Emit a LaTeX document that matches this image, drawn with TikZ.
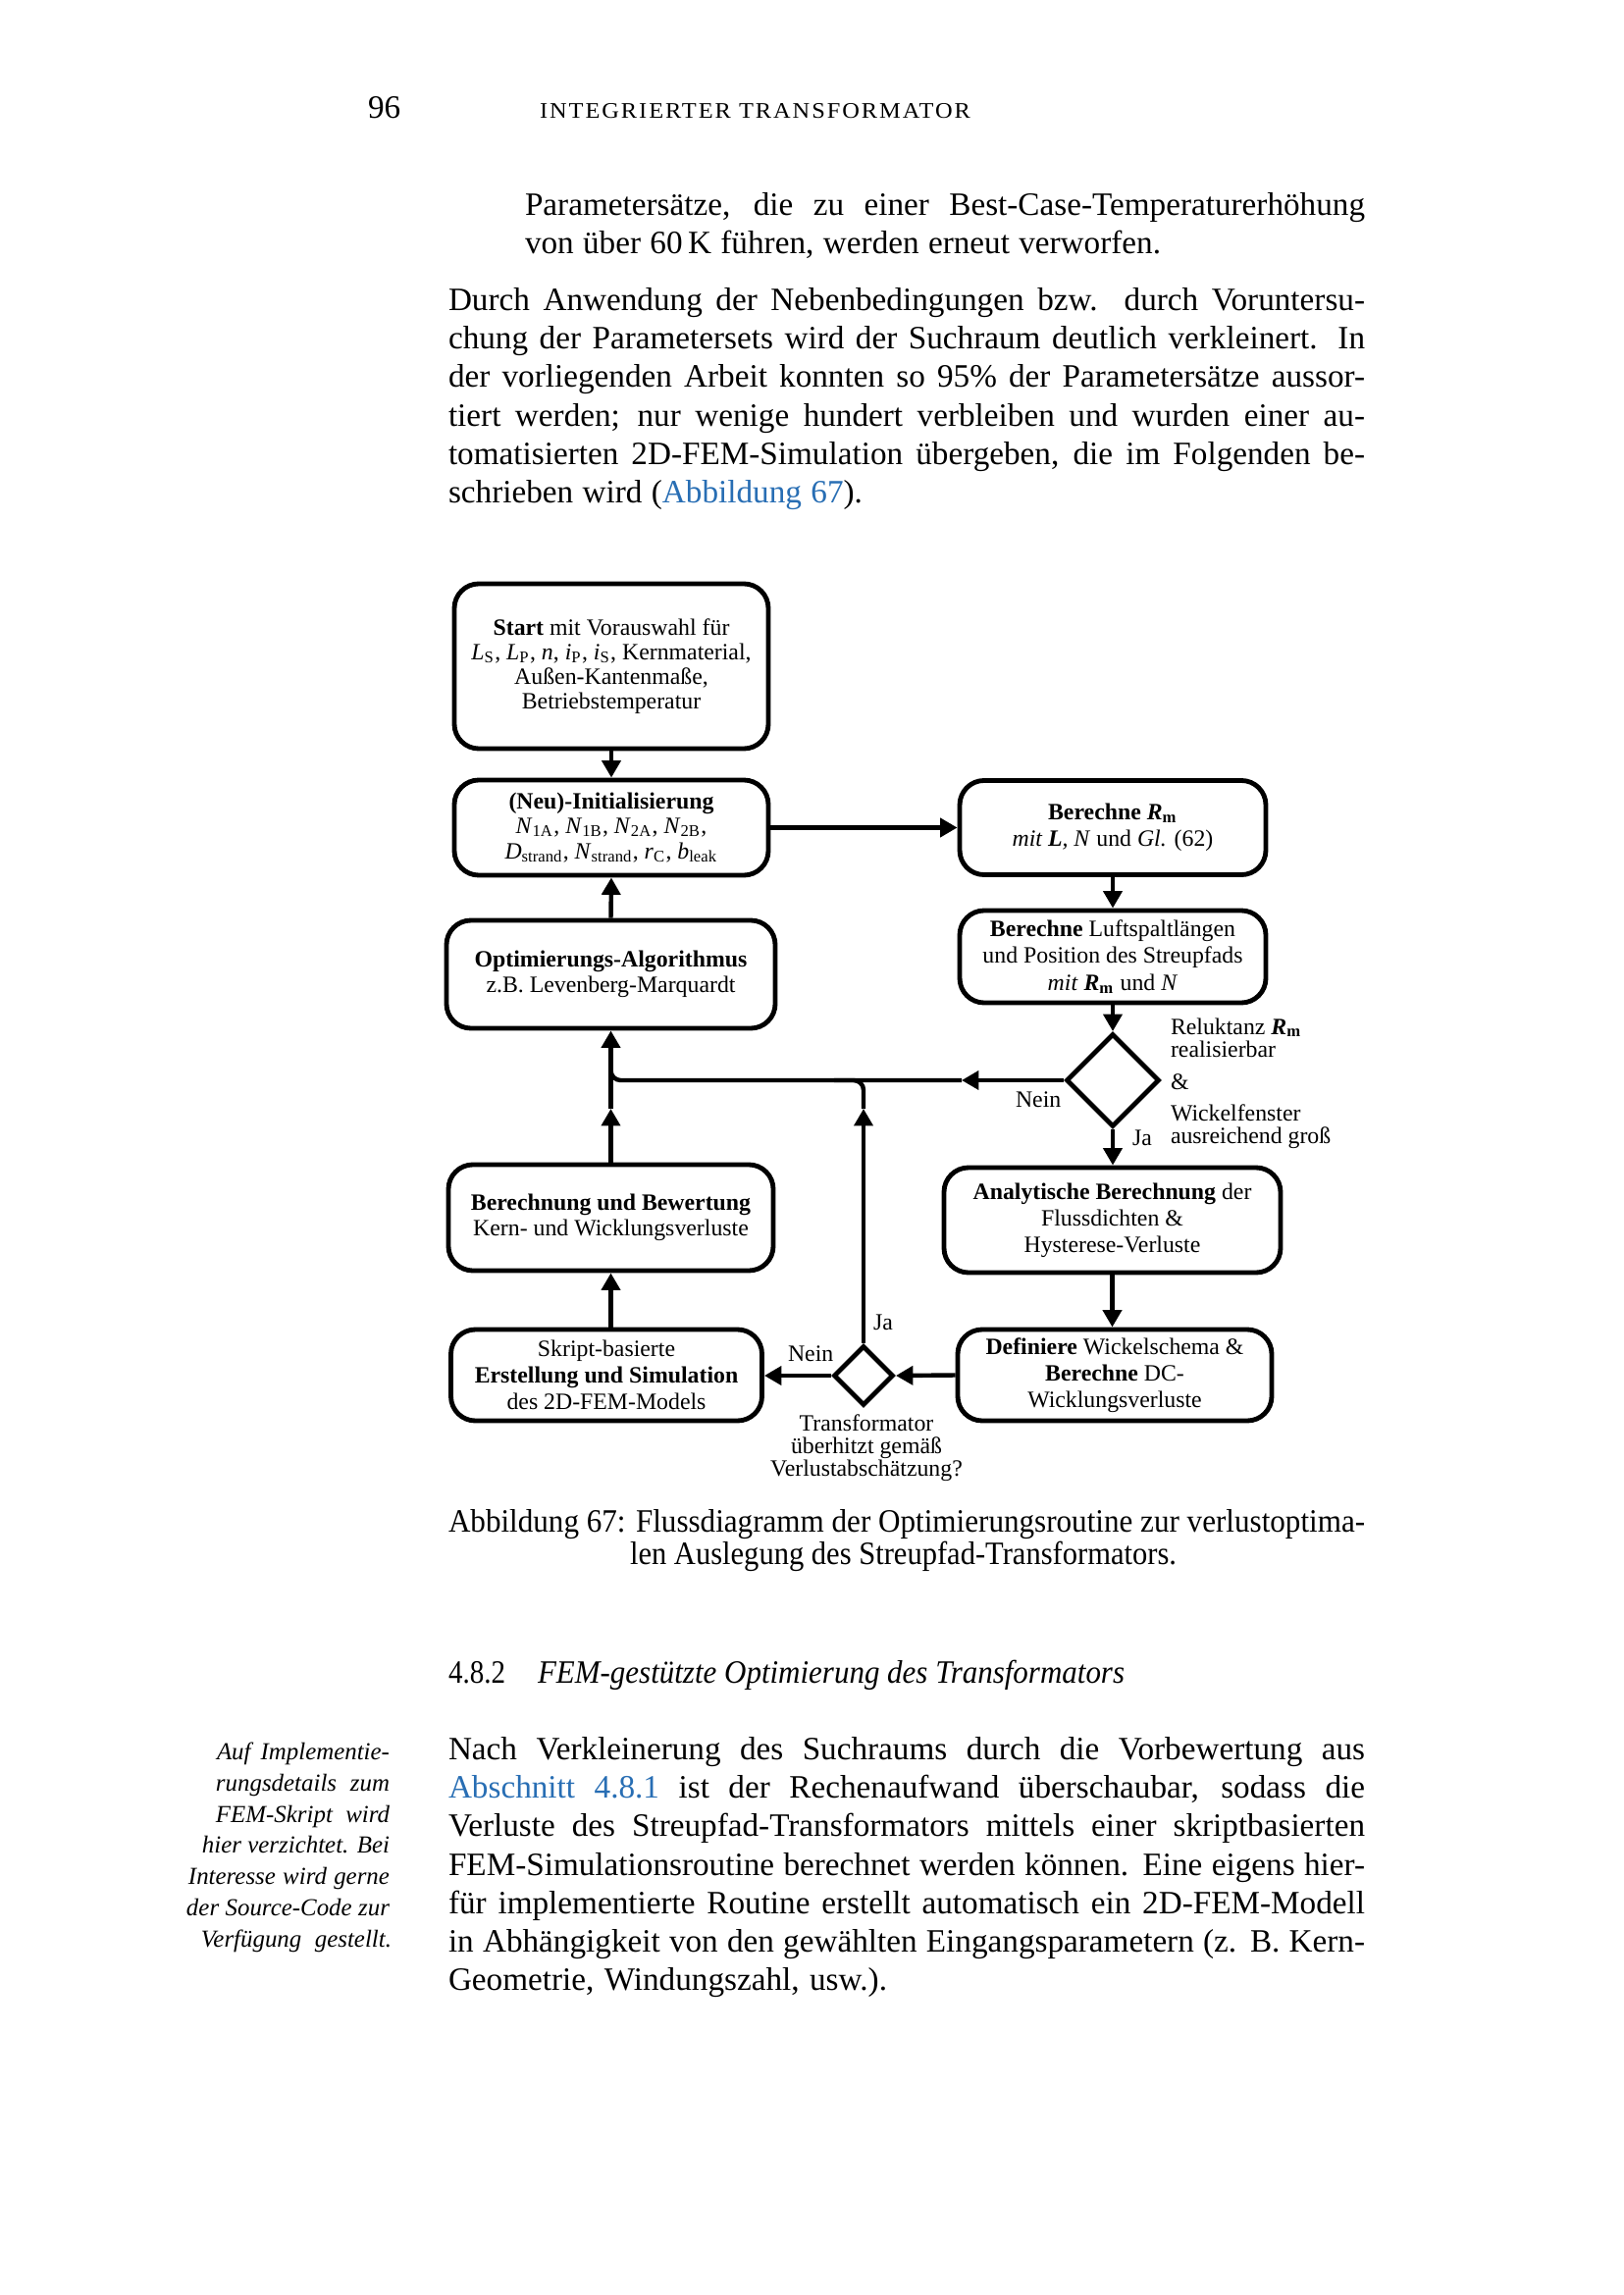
\documentclass[tikz,border=0pt]{standalone}
\usepackage{fontspec}
\setmainfont{Liberation Serif}
\usepackage{graphicx}
\usetikzlibrary{shapes.geometric,arrows.meta}
\definecolor{linkblue}{RGB}{40,110,180}
\newsavebox\jlbox
\newcommand\jline[2]{\sbox\jlbox{#2}\ifdim\wd\jlbox<#1\relax\makebox[#1][s]{#2}\else\resizebox{#1}{\height}{\usebox\jlbox}\fi}
\tikzset{
  txt/.style={anchor=base west, inner sep=0pt, outer sep=0pt, font=\fontsize{12}{14}\selectfont},
  mnote/.style={anchor=base east, inner sep=0pt, outer sep=0pt, font=\fontsize{9}{11}\selectfont\itshape},
  fbox/.style={draw, line width=1.75pt, rounded corners=9pt, align=center, inner sep=0pt, font=\fontsize{8.6}{9.5}\selectfont},
  lead/.style={font=\fontsize{8.6}{#1}\selectfont},
  dia/.style={draw, diamond, line width=1.75pt, inner sep=0pt, aspect=1},
  arr/.style={line width=1.6pt, -{Triangle[length=6.3pt,width=6.8pt]}},
  con/.style={line width=1.6pt},
  lab/.style={inner sep=0pt, outer sep=0pt, font=\fontsize{8.6}{9.1}\selectfont},
}
\begin{document}
\begin{tikzpicture}[x=0.127mm, y=-0.127mm]
\fill[white] (0,0) rectangle (1654,2339);
\useasboundingbox (0,0) rectangle (1654,2339);

% header
\node[txt] (pnum) at (375,121) {96};
\node[txt, font=\fontsize{8.2}{9}\selectfont] (head) at (550,121) {\resizebox{55.75mm}{\height}{\addfontfeatures{LetterSpace=8}INTEGRIERTER TRANSFORMATOR}};

% first paragraph (indented)
\node[txt] (p1a) at (535,220) {\jline{108.71mm}{Parametersätze, die zu einer Best-Case-Temperaturerhöhung}};
\node[txt] (p1b) at (535,259) {\jline{82.30mm}{von über 60\,K führen, werden erneut verworfen.}};

% second paragraph
\node[txt] (p2a) at (457,317) {\jline{118.62mm}{Durch Anwendung der Nebenbedingungen bzw. durch Voruntersu-}};
\node[txt] (p2b) at (457,356) {\jline{118.62mm}{chung der Parametersets wird der Suchraum deutlich verkleinert. In}};
\node[txt] (p2c) at (457,395) {\jline{118.62mm}{der vorliegenden Arbeit konnten so 95\% der Parametersätze aussor-}};
\node[txt] (p2d) at (457,435) {\jline{118.62mm}{tiert werden; nur wenige hundert verbleiben und wurden einer au-}};
\node[txt] (p2e) at (457,474) {\jline{118.62mm}{tomatisierten 2D-FEM-Simulation übergeben, die im Folgenden be-}};
\node[txt] (p2f) at (457,513) {\jline{53.59mm}{schrieben wird ({\color{linkblue}Abbildung 67}).}};

% flowchart boxes
\node[fbox, lead=9.1pt, minimum width=40.64mm, minimum height=21.34mm] (start) at (623,679)
  {\textbf{Start} mit Vorauswahl für\\
   \textit{L}\textsubscript{S}, \textit{L}\textsubscript{P}, \textit{n}, \textit{i}\textsubscript{P}, \textit{i}\textsubscript{S}, Kernmaterial,\\
   Außen-Kantenmaße,\\ Betriebstemperatur};
\node[fbox, lead=9.3pt, minimum width=40.64mm, minimum height=12.32mm] (init) at (623,843.5)
  {\textbf{(Neu)-Initialisierung}\\
   \textit{N}\textsubscript{1A}, \textit{N}\textsubscript{1B}, \textit{N}\textsubscript{2A}, \textit{N}\textsubscript{2B},\\
   \textit{D}\textsubscript{strand}, \textit{N}\textsubscript{strand}, \textit{r}\textsubscript{C}, \textit{b}\textsubscript{leak}};
\node[fbox, lead=9.7pt, minimum width=39.62mm, minimum height=12.2mm] (berrm) at (1134,843.5)
  {\textbf{Berechne \textit{R}}\textsubscript{\textbf{m}}\\
   \textit{mit \textbf{L}, N} und \textit{Gl.} (62)};
\node[fbox, lead=9.9pt, minimum width=39.62mm, minimum height=11.94mm] (luft) at (1134,975)
  {\textbf{Berechne} Luftspaltlängen\\ und Position des Streupfads\\
   \textit{mit} \textbf{\textit{R}}\textsubscript{\textbf{m}} und \textit{N}};
\node[dia, minimum width=12.07mm, minimum height=12.07mm] (d1) at (1134,1101) {};
\node[fbox, minimum width=42.55mm, minimum height=13.97mm] (opt) at (622.5,993)
  {\textbf{Optimierungs-Algorithmus}\\ z.B. Levenberg-Marquardt};
\node[fbox, minimum width=42.04mm, minimum height=13.72mm] (bew) at (622.5,1241)
  {\textbf{Berechnung und Bewertung}\\ Kern- und Wicklungsverluste};
\node[fbox, lead=9.7pt, minimum width=43.56mm, minimum height=13.59mm] (analyt) at (1133.5,1243.5)
  {\textbf{Analytische Berechnung} der\\ Flussdichten \&\\ Hysterese-Verluste};
\node[fbox, lead=9.7pt, minimum width=40.26mm, minimum height=11.81mm] (skript) at (618,1401.5)
  {Skript-basierte\\ \textbf{Erstellung und Simulation}\\ des 2D-FEM-Models};
\node[fbox, lead=9.7pt, minimum width=40.64mm, minimum height=11.81mm] (def) at (1136,1401.5)
  {\textbf{Definiere} Wickelschema \&\\ \textbf{Berechne} DC-\\ Wicklungsverluste};
\node[dia, minimum width=7.75mm, minimum height=7.75mm] (d2) at (880,1402) {};

% labels
\node[lab, anchor=base west] (ja1) at (1154,1167) {Ja};
\node[lab, anchor=base west] (nein1) at (1035,1128) {Nein};
\node[lab, anchor=base west] (c1) at (1193,1054) {Reluktanz \textbf{\textit{R}}\textsubscript{\textbf{m}}};
\node[lab, anchor=base west] (c2) at (1193,1077) {realisierbar};
\node[lab, anchor=base west] (c3) at (1193,1110) {\&};
\node[lab, anchor=base west] (c4) at (1193,1142) {Wickelfenster};
\node[lab, anchor=base west] (c5) at (1193,1165) {ausreichend groß};
\node[lab, anchor=base west] (nein2) at (803,1387) {Nein};
\node[lab, anchor=base west] (ja2) at (890,1355) {Ja};
\node[lab, anchor=base] (t1) at (883,1458) {Transformator};
\node[lab, anchor=base] (t2) at (883,1481) {überhitzt gemäß};
\node[lab, anchor=base] (t3) at (883,1504) {Verlustabschätzung?};

% junctions
\coordinate (aN) at (980,1101);
\coordinate (jL) at (622.5,1101);
\coordinate (jLup) at (622.5,1075);
\coordinate (jB) at (622.5,1130);
\coordinate (jM1) at (880,1130);
\coordinate (jM) at (880,1101);
\coordinate (jMl) at (850,1101);

% connectors
\draw[arr] (start.south) -- (init.north);
\draw[arr] (init.east) -- (init.east -| berrm.west);
\draw[arr] (berrm.south) -- (luft.north);
\draw[arr] (luft.south) -- (d1.north);
\draw[arr] (d1.south) -- (d1.south |- analyt.north);
\draw[arr] (analyt.south) -- (analyt.south |- def.north);
\draw[arr] (def.west) -- (d2.east);
\draw[arr] (d2.west) -- (d2.west -| skript.east);
\draw[arr] (bew.south |- skript.north) -- (bew.south);
\draw[arr] (bew.north) -- (jB);
\draw[arr] (jB) -- (opt.south);
\draw[arr] (opt.north) -- (init.south);
\draw[arr] (d1.west) -- (aN);
\draw[con, rounded corners=3.6pt] (aN) -- (jL) -- (jLup);
\draw[arr] (d2.north) -- (jM1);
\draw[con, rounded corners=3.6pt] (jM1) -- (jM) -- (jMl);

% caption
\node[txt] (cap1) at (457,1561) {\jline{118.62mm}{Abbildung 67: Flussdiagramm der Optimierungsroutine zur verlustoptima-}};
\node[txt] (cap2) at (642,1594) {\jline{70.74mm}{len Auslegung des Streupfad-Transformators.}};

% section heading
\node[txt] (secnum) at (457,1715) {\resizebox{7.37mm}{\height}{4.8.2}};
\node[txt] (sectitle) at (548,1715) {\jline{75.95mm}{\itshape FEM-gestützte Optimierung des Transformators}};

% margin note
\node[mnote] (m1) at (397,1793) {\jline{22.35mm}{Auf Implementie-}};
\node[mnote] (m2) at (397,1825) {\jline{22.48mm}{rungsdetails zum}};
\node[mnote] (m3) at (397,1857) {\jline{22.48mm}{FEM-Skript wird}};
\node[mnote] (m4) at (397,1888) {\jline{24.26mm}{hier verzichtet. Bei}};
\node[mnote] (m5) at (397,1920) {\jline{26.04mm}{Interesse wird gerne}};
\node[mnote] (m6) at (397,1952) {\jline{26.29mm}{der Source-Code zur}};
\node[mnote] (m7) at (399,1984) {\jline{24.64mm}{Verfügung gestellt.}};

% last paragraph
\node[txt] (p3a) at (457,1793) {\jline{118.62mm}{Nach Verkleinerung des Suchraums durch die Vorbewertung aus}};
\node[txt] (p3b) at (457,1832) {\jline{118.62mm}{{\color{linkblue}Abschnitt 4.8.1} ist der Rechenaufwand überschaubar, sodass die}};
\node[txt] (p3c) at (457,1871) {\jline{118.62mm}{Verluste des Streupfad-Transformators mittels einer skriptbasierten}};
\node[txt] (p3d) at (457,1911) {\jline{118.62mm}{FEM-Simulationsroutine berechnet werden können. Eine eigens hier-}};
\node[txt] (p3e) at (457,1950) {\jline{118.62mm}{für implementierte Routine erstellt automatisch ein 2D-FEM-Modell}};
\node[txt] (p3f) at (457,1989) {\jline{118.62mm}{in Abhängigkeit von den gewählten Eingangsparametern (z. B. Kern-}};
\node[txt] (p3g) at (457,2028) {\jline{56.77mm}{Geometrie, Windungszahl, usw.).}};
\end{tikzpicture}
\end{document}
